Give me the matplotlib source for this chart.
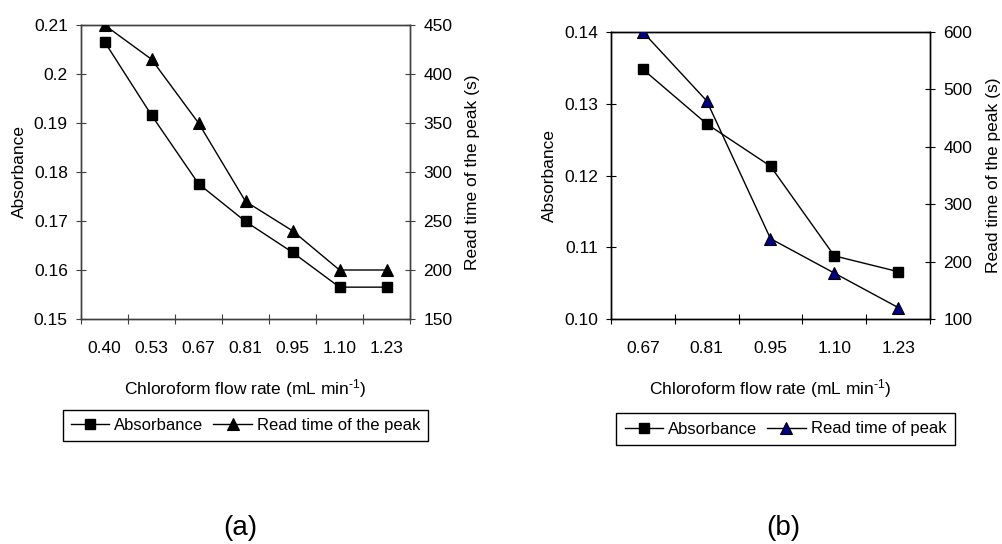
import numpy as np
import matplotlib
matplotlib.use("Agg")
import matplotlib.pyplot as plt

plt.rcParams['font.family'] = ['Liberation Sans', 'DejaVu Sans']
plt.rcParams['mathtext.fontset'] = 'custom'
plt.rcParams['mathtext.rm'] = 'Liberation Sans'
plt.rcParams['mathtext.it'] = 'Liberation Sans'
plt.rcParams['font.size'] = 12.5

# panel (a)
flow_a = ['0.40', '0.53', '0.67', '0.81', '0.95', '1.10', '1.23']
abs_a = [0.2066, 0.1916, 0.1776, 0.1699, 0.1636, 0.1565, 0.1565]
time_a = [450, 415, 350, 270, 240, 200, 200]

# panel (b)
flow_b = ['0.67', '0.81', '0.95', '1.10', '1.23']
abs_b = [0.1348, 0.1272, 0.1213, 0.1088, 0.1066]
time_b = [600, 480, 240, 180, 120]

W, H = 1002, 544
fig = plt.figure(figsize=(W / 100, H / 100), dpi=100)
xlab = 'Chloroform flow rate (mL min$^{\\text{-1}}$)'


def panel(rect, cats, absv, timev, ylim1, yt1, yfmt, ylim2, yt2, tri_color,
          leg_label, spine_col, legend_xy, tag, tag_x, rpad):
    ax = fig.add_axes(rect)
    x = np.arange(len(cats))
    ax2 = ax.twinx()
    l1, = ax.plot(x, absv, color='black', lw=1, marker='s', ms=6.8,
                  mfc='black', mec='black', zorder=3)
    l2, = ax2.plot(x, timev, color='black', lw=1, marker='^', ms=8,
                   mfc=tri_color, mec='black', mew=0.8, zorder=3)
    ax.set_xlim(-0.5, len(cats) - 0.5)
    ax.set_ylim(*ylim1)
    ax.set_yticks(yt1)
    ax.set_yticklabels([yfmt(v) for v in yt1])
    ax2.set_ylim(*ylim2)
    ax2.set_yticks(yt2)
    ax.set_xticks(np.arange(len(cats) + 1) - 0.5)
    ax.set_xticklabels([])
    ax.set_xticks(x, minor=True)
    ax.set_xticklabels(cats, minor=True)
    ax.tick_params(axis='x', which='minor', length=0, pad=16)
    ax.tick_params(axis='x', which='major', direction='inout', length=7,
                   color=spine_col)
    ax.tick_params(axis='y', direction='inout', length=7, pad=6,
                   color=spine_col)
    ax2.tick_params(axis='y', direction='inout', length=7, pad=6,
                    color=spine_col)
    for a in (ax, ax2):
        for s in a.spines.values():
            s.set_color(spine_col)
            s.set_linewidth(1)
    ax.set_xlabel(xlab, labelpad=15)
    ax.set_ylabel('Absorbance', labelpad=5)
    ax2.set_ylabel('Read time of the peak (s)', labelpad=rpad)
    fig.legend([l1, l2], ['Absorbance', leg_label],
               loc='center', bbox_to_anchor=legend_xy, ncol=2,
               frameon=True, fancybox=False, edgecolor='black',
               framealpha=1, fontsize=12, handlelength=2.3,
               handletextpad=0.3, columnspacing=0.6, borderpad=0.5)
    fig.text(tag_x, 16 / H, tag, ha='center', va='center', fontsize=20)


panel([81 / W, 225 / H, 329 / W, 294 / H], flow_a, abs_a, time_a,
      (0.15, 0.21), [0.15, 0.16, 0.17, 0.18, 0.19, 0.20, 0.21],
      lambda v: '0.2' if abs(v - 0.20) < 1e-9 else '%.2f' % v,
      (150, 450), [150, 200, 250, 300, 350, 400, 450], 'black',
      'Read time of the peak', '#404040', (245.5 / W, 1 - 425.5 / H),
      '(a)', 240 / W, 9)

panel([611 / W, 225 / H, 319 / W, 287 / H], flow_b, abs_b, time_b,
      (0.10, 0.14), [0.10, 0.11, 0.12, 0.13, 0.14],
      lambda v: '%.2f' % v,
      (100, 600), [100, 200, 300, 400, 500, 600], '#000080',
      'Read time of peak', 'black', (785.5 / W, 1 - 429 / H),
      '(b)', 783 / W, 10)

fig.savefig('out.png', dpi=100)
